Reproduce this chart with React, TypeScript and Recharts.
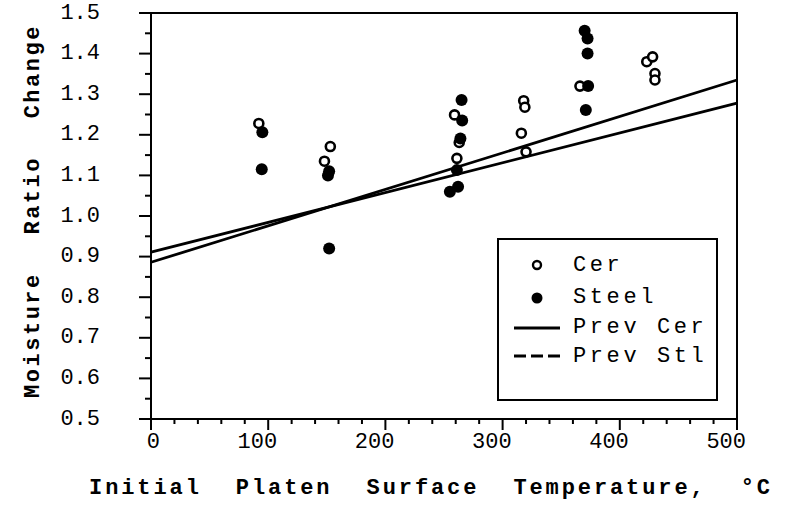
import React from 'react';
import {
  ComposedChart,
  Scatter,
  Line,
  XAxis,
  YAxis,
  ReferenceArea,
  Legend
} from 'recharts';

// Cer (open circles)
const cerTemp = [92, 148, 153, 259, 263, 261, 316, 318, 319, 320, 366, 423, 428, 430, 430];
const cerRatio = [1.228, 1.135, 1.171, 1.249, 1.181, 1.142, 1.204, 1.284, 1.268, 1.158, 1.32, 1.38, 1.392, 1.351, 1.335];

// Steel (filled circles)
const steelTemp = [95, 94.5, 152, 151, 152, 265, 265.5, 264, 261, 255, 262, 373, 371, 370, 372.5, 372.5];
const steelRatio = [1.206, 1.115, 1.11, 1.1, 0.92, 1.286, 1.235, 1.191, 1.113, 1.06, 1.072, 1.32, 1.261, 1.456, 1.437, 1.4];

// previous correlations
const prevTemp = [0, 500];
const prevCerRatio = [0.886, 1.335];
const prevStlRatio = [0.911, 1.278];

const xTicks = [0, 20, 40, 60, 80, 100, 120, 140, 160, 180, 200, 220, 240, 260, 280, 300, 320, 340, 360, 380, 400, 420, 440, 460, 480, 500];
const yTicks = [0.5, 0.55, 0.6, 0.65, 0.7, 0.75, 0.8, 0.85, 0.9, 0.95, 1.0, 1.05, 1.1, 1.15, 1.2, 1.25, 1.3, 1.35, 1.4, 1.45, 1.5];

const cer = cerTemp.map((t, i) => ({ t, r: cerRatio[i] }));
const steel = steelTemp.map((t, i) => ({ t, r: steelRatio[i] }));
const prevCer = prevTemp.map((t, i) => ({ t, r: prevCerRatio[i] }));
const prevStl = prevTemp.map((t, i) => ({ t, r: prevStlRatio[i] }));

const FONT = "'Liberation Mono', 'DejaVu Sans Mono', monospace";

const isMajor = (v: number, step: number) => Math.abs(v / step - Math.round(v / step)) < 1e-6;

const XTick = (props: any) => {
  const { x, y, payload } = props;
  const major = isMajor(payload.value, 100);
  return (
    <g>
      <line x1={x} y1={y} x2={x} y2={y + (major ? 11 : 5)} stroke="#000" strokeWidth={2} />
      {major && (
        <text x={x + 9} y={y + 23} textAnchor="end" dominantBaseline="central" fontFamily={FONT} fontSize={22} fill="#000">
          {payload.value}
        </text>
      )}
    </g>
  );
};

const YTick = (props: any) => {
  const { x, y, payload } = props;
  const major = isMajor(payload.value, 0.1);
  return (
    <g>
      <line x1={x - (major ? 12 : 6)} y1={y} x2={x} y2={y} stroke="#000" strokeWidth={2} />
      {major && (
        <text x={x - 51} y={y} textAnchor="end" dominantBaseline="central" fontFamily={FONT} fontSize={22} fill="#000">
          {payload.value.toFixed(1)}
        </text>
      )}
    </g>
  );
};

const OpenDot = (props: any) => (
  <circle cx={props.cx} cy={props.cy} r={4.5} fill="#fff" stroke="#000" strokeWidth={2.6} />
);

const FilledDot = (props: any) => (
  <circle cx={props.cx} cy={props.cy} r={6} fill="#000" />
);

const LegendBox = () => {
  const row = (h: number) => ({ height: h, display: 'flex', alignItems: 'center' } as React.CSSProperties);
  const sym = { width: 76, display: 'flex', justifyContent: 'center' } as React.CSSProperties;
  const label = { fontFamily: FONT, fontSize: 22, letterSpacing: 3.6, color: '#000', marginLeft: -2 } as React.CSSProperties;
  return (
    <div style={{ width: 217, height: 151, border: '2px solid #000', background: '#fff', boxSizing: 'content-box', paddingTop: 8 }}>
      <div style={row(34)}>
        <div style={sym}>
          <svg width={14} height={14}><circle cx={7} cy={7} r={4} fill="#fff" stroke="#000" strokeWidth={2.4} /></svg>
        </div>
        <span style={label}>Cer</span>
      </div>
      <div style={row(31)}>
        <div style={sym}>
          <svg width={14} height={14}><circle cx={7} cy={7} r={5.5} fill="#000" /></svg>
        </div>
        <span style={label}>Steel</span>
      </div>
      <div style={row(29)}>
        <div style={sym}>
          <svg width={50} height={10}><line x1={2} y1={5} x2={48} y2={5} stroke="#000" strokeWidth={3} /></svg>
        </div>
        <span style={label}>Prev Cer</span>
      </div>
      <div style={row(28)}>
        <div style={sym}>
          <svg width={50} height={10}><line x1={2} y1={5} x2={48} y2={5} stroke="#000" strokeWidth={3} strokeDasharray="12 5 12 5 4 0" /></svg>
        </div>
        <span style={label}>Prev Stl</span>
      </div>
    </div>
  );
};

const XTitle = (props: any) => {
  const { viewBox } = props;
  return (
    <text
      x={viewBox.x + viewBox.width / 2 - 13}
      y={494}
      textAnchor="middle"
      fontFamily={FONT}
      fontSize={22}
      fontWeight="bold"
      fill="#000"
      style={{ wordSpacing: 18, letterSpacing: 2.9 }}
    >
      Initial Platen Surface Temperature, °C
    </text>
  );
};

const YTitle = () => (
  <text
    x={33}
    y={211}
    transform="rotate(-90 33 211)"
    textAnchor="middle"
    dominantBaseline="central"
    fontFamily={FONT}
    fontSize={22}
    fontWeight="bold"
    fill="#000"
    style={{ wordSpacing: 22, letterSpacing: 2.5 }}
  >
    Moisture Ratio Change
  </text>
);

export default function App() {
  return (
    <div style={{ position: 'absolute', left: 0, top: 0, width: 801, height: 510, background: '#fff' }}>
      <ComposedChart width={801} height={510} margin={{ top: 13, right: 64, left: 0, bottom: 0 }}>
        <XAxis
          dataKey="t"
          type="number"
          domain={[0, 500]}
          ticks={xTicks}
          interval={0}
          height={91}
          tickLine={false}
          tickSize={0}
          tickMargin={0}
          tick={<XTick />}
          axisLine={{ stroke: '#000', strokeWidth: 2 }}
          label={<XTitle />}
        />
        <YAxis
          dataKey="r"
          type="number"
          domain={[0.5, 1.5]}
          ticks={yTicks}
          interval={0}
          width={151}
          tickLine={false}
          tickSize={0}
          tickMargin={0}
          tick={<YTick />}
          axisLine={{ stroke: '#000', strokeWidth: 2 }}
          label={<YTitle />}
        />
        <ReferenceArea x1={0} x2={500} y1={0.5} y2={1.5} fill="none" stroke="#000" strokeWidth={2} ifOverflow="visible" />
        <Line data={prevCer} dataKey="r" stroke="#000" strokeWidth={2.8} dot={false} isAnimationActive={false} />
        <Line data={prevStl} dataKey="r" stroke="#000" strokeWidth={2.8} dot={false} isAnimationActive={false} />
        <Scatter data={cer} shape={<OpenDot />} isAnimationActive={false} />
        <Scatter data={steel} shape={<FilledDot />} isAnimationActive={false} />
        <Legend
          layout="horizontal"
          verticalAlign="middle"
          content={<LegendBox />}
          wrapperStyle={{ left: 497, top: 238, width: 221, height: 161 }}
        />
      </ComposedChart>
    </div>
  );
}
